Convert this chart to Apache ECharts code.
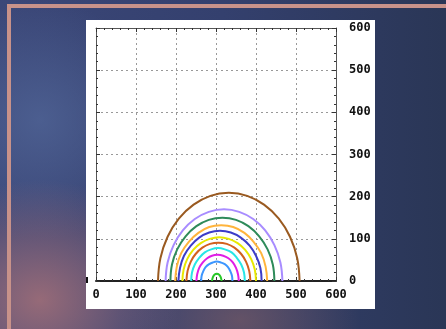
<!DOCTYPE html>
<html>
<head>
<meta charset="utf-8">
<script src="https://cdn.jsdelivr.net/npm/echarts@6/dist/echarts.min.js"></script>
<style>
html,body{margin:0;padding:0;width:446px;height:329px;overflow:hidden;}
body{position:relative;background:
 radial-gradient(ellipse 140px 120px at 40px 300px, rgba(160,110,120,0.9), rgba(160,110,120,0) 100%),
 radial-gradient(ellipse 120px 80px at 240px 320px, rgba(120,90,100,0.7), rgba(120,90,100,0) 100%),
 radial-gradient(ellipse 120px 120px at 40px 120px, rgba(80,100,150,0.8), rgba(80,100,150,0) 100%),
 linear-gradient(90deg,#3b4778 0%,#34406e 50%,#2a3656 100%);}
#ltop{position:absolute;left:7px;top:4px;width:439px;height:4px;background:#c8928a;}
#lleft{position:absolute;left:7px;top:4px;width:4px;height:325px;background:#c8928a;}
#chart{position:absolute;left:86px;top:20px;width:289px;height:289px;background:#fff;}
#mark{position:absolute;left:86px;top:277px;width:2px;height:6px;background:#111;z-index:5;}
</style>
</head>
<body>
<div id="ltop"></div><div id="lleft"></div>
<div id="chart"></div><div id="mark"></div>
<script>
const xTicks = [0,100,200,300,400,500,600];
const yTicks = [0,100,200,300,400,500,600];
const seriesNames = ['c1','c2','c3','c4','c5','c6','c7','c8','c9','c10','c11'];
const seriesColors = ['#9a5a20','#a88cff','#2e8b5a','#ffb43c','#3c3cc8','#e8e800','#d2601e','#28e6e6','#e01ee6','#3c96ff','#28c828'];

const c1x = [155,161,179,207,244,286,332,378,420,457,485,503,509];
const c1y = [0,54,105,148,181,202,209,202,181,148,105,54,0];
const c2x = [174,179,194,217,247,282,320,358,393,423,446,461,466];
const c2y = [0,44,85,120,147,164,170,164,147,120,85,44,0];
const c3x = [186,190,203,224,251,282,316,350,381,408,429,442,446];
const c3y = [0,39,75,106,130,145,150,145,130,106,75,39,0];
const c4x = [198,202,213,232,256,283,313,343,371,394,413,424,428];
const c4y = [0,34,66,93,114,128,132,128,114,93,66,34,0];
const c5x = [206,210,220,237,258,283,310,337,362,384,400,411,414];
const c5y = [0,31,60,84,103,115,119,115,103,84,60,31,0];
const c6x = [216,219,228,243,262,284,308,332,354,373,388,397,400];
const c6y = [0,27,52,74,90,100,104,100,90,74,52,27,0];
const c7x = [226,229,237,249,266,285,306,327,346,363,375,383,386];
const c7y = [0,24,46,64,79,88,91,88,79,64,46,24,0];
const c8x = [238,240,247,258,272,288,305,322,339,352,363,370,372];
const c8y = [0,20,39,55,68,75,78,75,68,55,39,20,0];
const c9x = [251,253,258,267,278,290,304,318,331,342,350,355,357];
const c9y = [0,16,31,44,54,60,62,60,54,44,31,16,0];
const c10x = [263,264,268,274,283,292,302,312,322,330,336,340,341];
const c10y = [0,12,23,33,40,44,46,44,40,33,23,12,0];
const c11x = [290,292,296,302,308,312,314];
const c11y = [0,8.5,14.7,17,14.7,8.5,0];

const curvesX = [c1x,c2x,c3x,c4x,c5x,c6x,c7x,c8x,c9x,c10x,c11x];
const curvesY = [c1y,c2y,c3y,c4y,c5y,c6y,c7y,c8y,c9y,c10y,c11y];

const chart = echarts.init(document.getElementById('chart'), null, {renderer:'canvas'});
const font = '"DejaVu Sans Mono", monospace';
const xmin = xTicks[0], xmax = xTicks[xTicks.length-1];
const ymin = yTicks[0], ymax = yTicks[yTicks.length-1];
const step = xTicks[1]-xTicks[0];

function axisCommon(extra){
  return Object.assign({
    type:'value', min:xmin, max:xmax, interval:step,
    axisTick:{show:true, inside:true, length:4, lineStyle:{color:'#333',width:1}},
    minorTick:{show:true, splitNumber:5, length:2, lineStyle:{color:'#333',width:1}},
    splitLine:{show:false},
    axisLabel:{show:false}
  }, extra);
}

const option = {
  animation:false,
  backgroundColor:'#fff',
  grid:{left:10, top:8, width:240, height:253},
  xAxis:[
    axisCommon({position:'bottom',
      axisLine:{show:true, onZero:false, lineStyle:{color:'#222', width:2}},
      splitLine:{show:true, lineStyle:{color:'#999', type:[2,3], width:1}},
      axisLabel:{show:true, margin:8, color:'#111', fontFamily:font, fontWeight:'bold', fontSize:12,
        formatter:v=>String(v)}
    }),
    axisCommon({position:'top', axisLine:{show:true, onZero:false, lineStyle:{color:'#555', width:1}}})
  ],
  yAxis:[
    axisCommon({min:ymin, max:ymax, position:'right',
      axisLine:{show:true, onZero:false, lineStyle:{color:'#555', width:1}},
      splitLine:{show:true, lineStyle:{color:'#999', type:[2,3], width:1}},
      axisLabel:{show:true, margin:13, color:'#111', fontFamily:font, fontWeight:'bold', fontSize:12,
        formatter:v=>String(v)}
    }),
    axisCommon({min:ymin, max:ymax, position:'left', axisLine:{show:true, onZero:false, lineStyle:{color:'#555', width:1}}})
  ],
  series: curvesX.map((xs,i)=>({
    name:seriesNames[i], type:'line', xAxisIndex:0, yAxisIndex:0,
    data: xs.map((x,j)=>[x, curvesY[i][j]]),
    smooth:0.4, showSymbol:false, symbol:'none',
    lineStyle:{color:seriesColors[i], width:2},
    z:3
  }))
};
chart.setOption(option);
</script>
</body>
</html>
